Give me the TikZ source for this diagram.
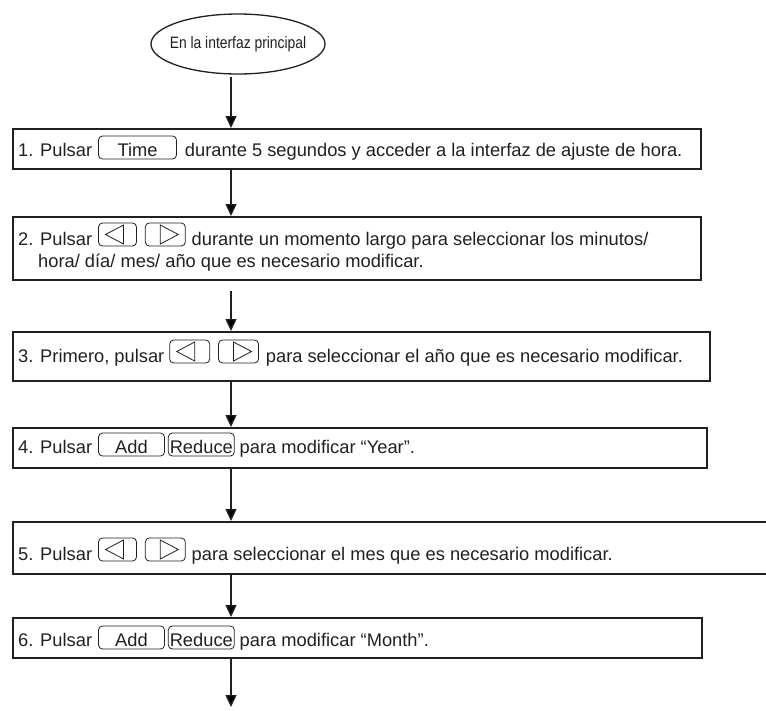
\documentclass[tikz,border=0pt]{standalone}
\usepackage{graphicx}
\usepackage{fontspec}
\setmainfont{Liberation Sans}
\usetikzlibrary{arrows.meta,shapes.geometric}
\definecolor{ink}{RGB}{35,31,32}
\tikzset{
  boxst/.style={draw=ink, line width=1.8pt, anchor=north west, inner sep=0pt},
  txt/.style={anchor=base west, inner sep=0pt, text=ink, font=\fontsize{18.3}{22}\selectfont},
  arr/.style={draw=ink, line width=1.4pt, -{Triangle[length=12pt,width=11pt]}},
  keyline/.style={draw=ink, line width=0.8pt, rounded corners=4pt},
  triline/.style={draw=ink, line width=0.8pt, line join=miter},
}
\newcommand{\keytext}[2]{\smash{\tikz[x=1pt,y=1pt,baseline=0pt]{\draw[keyline] (0,-3) rectangle (#1,20); \node[anchor=base, inner sep=0pt, outer sep=0pt] (kt) at (#1/2,0) {#2};}}}
\newcommand{\keyL}[1]{\smash{\tikz[x=1pt,y=1pt,baseline=0pt]{\draw[keyline] (0,-1) rectangle (#1,22); \draw[triline] (7,10.5) -- (25,20) -- (25,1) -- cycle;}}}
\newcommand{\keyR}[1]{\smash{\tikz[x=1pt,y=1pt,baseline=0pt]{\draw[keyline] (0,-1) rectangle (#1,22); \draw[triline] (#1-7,10.5) -- (#1-25,20) -- (#1-25,1) -- cycle;}}}
\begin{document}
\begin{tikzpicture}[x=1pt,y=-1pt]
\useasboundingbox (0,0) rectangle (766,710);
% start ellipse
\node[ellipse, draw=ink, line width=1.3pt, minimum width=174pt, minimum height=60pt, inner sep=0pt, text=ink, font=\fontsize{16.5}{18}\selectfont] (e) at (238,44) {\makebox[0pt]{\scalebox{0.84}[1]{En la interfaz principal}}};
% boxes
\node[boxst, minimum width=688pt, minimum height=40pt] (b1) at (12,128) {};
\node[boxst, minimum width=688pt, minimum height=63pt] (b2) at (12,216) {};
\node[boxst, minimum width=697pt, minimum height=49pt] (b3) at (12,331) {};
\node[boxst, minimum width=694pt, minimum height=40pt] (b4) at (12,427) {};
\node[boxst, minimum width=760pt, minimum height=52pt] (b5) at (12,521) {};
\node[boxst, minimum width=689pt, minimum height=40pt] (b6) at (12,617) {};
% texts
\node[txt] (t1) at (18,156) {1. Pulsar\hspace{6pt}\keytext{78}{Time}\hspace{8pt}durante 5 segundos y acceder a la interfaz de ajuste de hora.};
\node[txt] (t2a) at (18,245) {2. Pulsar\hspace{6pt}\keyL{38}\hspace{8pt}\keyR{40}\hspace{6pt}durante un momento largo para seleccionar los minutos/};
\node[txt] (t2b) at (38,267) {hora/ día/ mes/ año que es necesario modificar.};
\node[txt] (t3) at (18,362) {3. Primero, pulsar\hspace{5pt}\keyL{40}\hspace{8pt}\keyR{40}\hspace{7pt}para seleccionar el año que es necesario modificar.};
\node[txt] (t4) at (18,453) {4. Pulsar\hspace{6pt}\keytext{66}{Add}\hspace{3pt}\keytext{66}{Reduce}\hspace{5pt}para modificar “Year”.};
\node[txt] (t5) at (18,560) {5. Pulsar\hspace{6pt}\keyL{38}\hspace{8pt}\keyR{40}\hspace{6pt}para seleccionar el mes que es necesario modificar.};
\node[txt] (t6) at (18,646) {6. Pulsar\hspace{6pt}\keytext{66}{Add}\hspace{3pt}\keytext{66}{Reduce}\hspace{5pt}para modificar “Month”.};
% connectors
\coordinate (ax) at (231,0);
\coordinate (fin) at (231,707);
\draw[arr] ([yshift=-2pt]e.south -| ax) -- (b1.north -| ax);
\draw[arr] (b1.south -| ax) -- (b2.north -| ax);
\draw[arr] ([yshift=-10pt]b2.south -| ax) -- (b3.north -| ax);
\draw[arr] (b3.south -| ax) -- (b4.north -| ax);
\draw[arr] (b4.south -| ax) -- (b5.north -| ax);
\draw[arr] (b5.south -| ax) -- (b6.north -| ax);
\draw[arr] (b6.south -| ax) -- (fin);
\end{tikzpicture}
\end{document}
